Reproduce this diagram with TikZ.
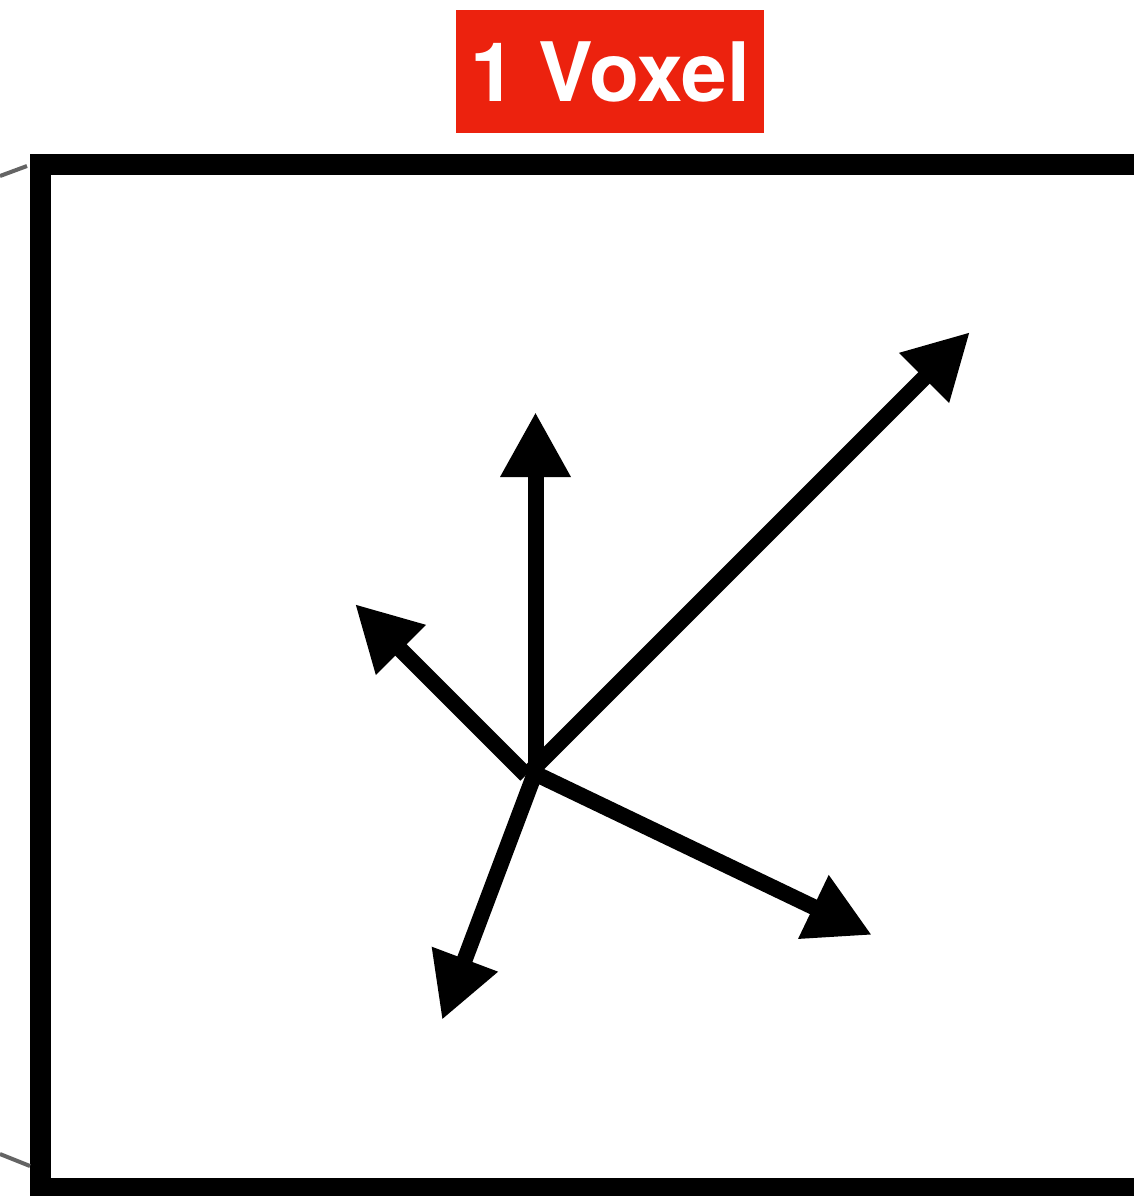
\documentclass[tikz,border=0pt]{standalone}
\usepackage{fontspec}
\usepackage{xcolor}
\setmainfont{TeX Gyre Heros}
\usetikzlibrary{arrows.meta}
\definecolor{voxred}{RGB}{236,34,14}
\definecolor{edgegray}{RGB}{100,100,100}

\begin{document}
\begin{tikzpicture}[
  x=0.5pt, y=-0.5pt,
  tag/.style={fill=voxred, text=white, inner sep=0pt, minimum width=154pt, minimum height=61.5pt, font=\fontsize{41}{48}\selectfont\bfseries},
  voxbox/.style={draw=black, line width=10.5pt, line join=miter},
  edge/.style={draw=edgegray, line width=2pt},
  vec/.style={-{Triangle[length=32.5pt, width=33pt]}, line width=8pt, color=black},
]
\useasboundingbox (0,0) rectangle (1134,1196);
\clip (0,0) rectangle (1134,1196);

% ================= label =================
\node[tag] (voxel) at (610,71.5) {1 Voxel};

% ================= voxel cell =================
\draw[voxbox] (40.5,164.5) rectangle (1160,1188.5);
\draw[edge] (0,176) -- (27,166);
\draw[edge] (0,1154) -- (30,1166);

% ================= direction vectors =================
\coordinate (origin) at (534,773);
\coordinate (up) at (535.5,412);
\coordinate (upright) at (970,332);
\coordinate (upleft) at (355,604);
\coordinate (downright) at (872,935);
\coordinate (downleft) at (442,1020);

\draw[vec] (535.5,782) -- (up);
\draw[vec] (529,773) -- (upright);
\draw[vec] (526,775) -- (upleft);
\draw[vec] (origin) -- (downright);
\draw[vec] (535,773) -- (downleft);

\end{tikzpicture}
\end{document}
